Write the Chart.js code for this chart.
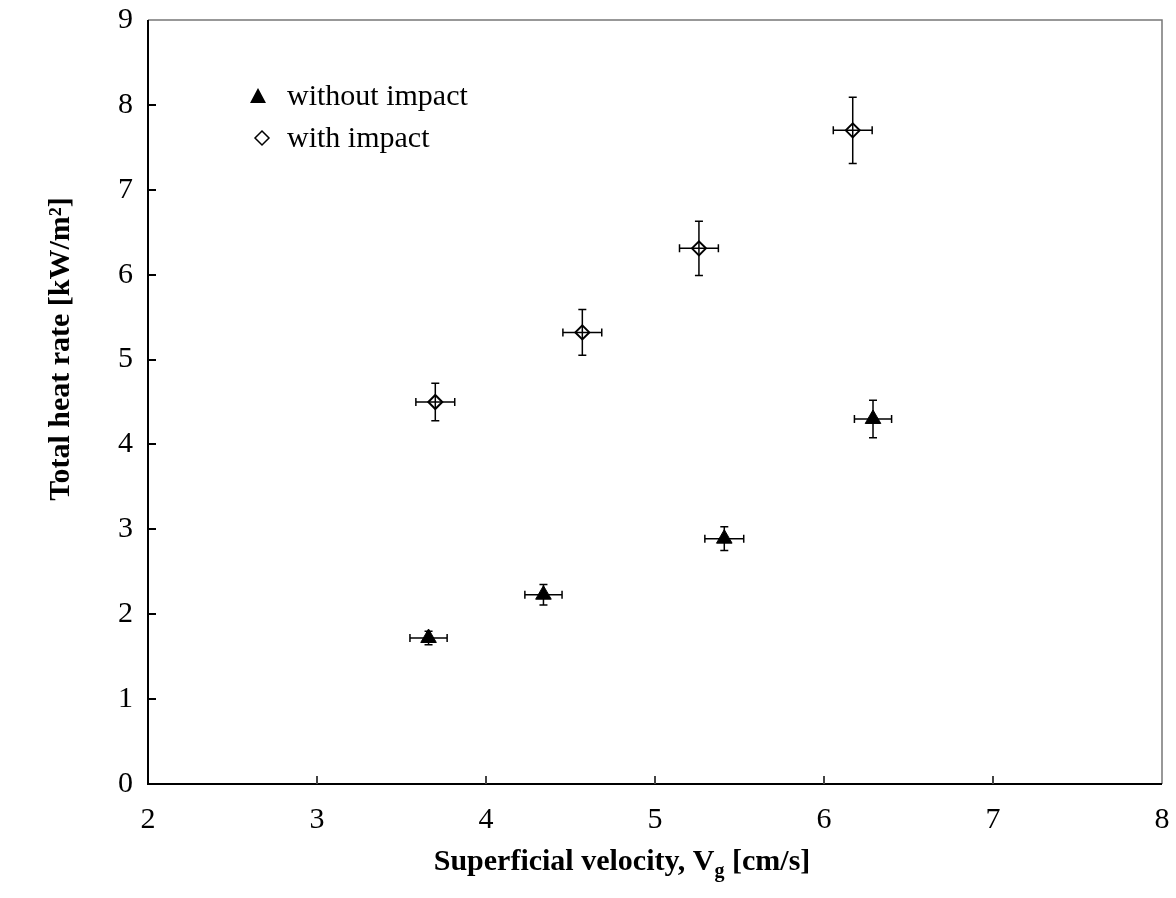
<!DOCTYPE html>
<html>
<head>
<meta charset="utf-8">
<script src="https://cdn.jsdelivr.net/npm/chart.js@4.4.0/dist/chart.umd.min.js"></script>
<style>
  html, body { margin: 0; padding: 0; background: #fff; }
  #wrap { width: 1176px; height: 898px; }
</style>
</head>
<body>
<div id="wrap"><canvas id="myChart" width="1176" height="898"></canvas></div>
<script>
// without impact (filled triangles)
const woX = [3.66, 4.34, 5.41, 6.29];
const woY = [1.72, 2.23, 2.89, 4.30];
const woXErr = [0.11, 0.11, 0.115, 0.11];
const woYErr = [0.08, 0.12, 0.14, 0.22];

// with impact (open diamonds)
const wiX = [3.70, 4.57, 5.26, 6.17];
const wiY = [4.50, 5.32, 6.31, 7.70];
const wiXErr = [0.115, 0.115, 0.115, 0.115];
const wiYErr = [0.22, 0.27, 0.32, 0.39];

const xTicks = [2, 3, 4, 5, 6, 7, 8];
const yTicks = [0, 1, 2, 3, 4, 5, 6, 7, 8, 9];

const serif = '"Liberation Serif", "Times New Roman", serif';

function toPoints(xs, ys){
    const pts = [];
    xs.forEach((x, i) => pts.push({x: x, y: ys[i]}));
    return pts;
}

const errorBars = {
    id: 'errorBars',
    beforeDatasetsDraw(chart){
        const ctx = chart.ctx;
        const xs = chart.scales.x, ys = chart.scales.y;
        const sets = [[woX, woY, woXErr, woYErr], [wiX, wiY, wiXErr, wiYErr]];
        const cap = 4;
        ctx.save();
        ctx.strokeStyle = '#000';
        ctx.lineWidth = 1.5;
        sets.forEach(s => {
            s[0].forEach((x, i) => {
                const px = xs.getPixelForValue(x);
                const py = ys.getPixelForValue(s[1][i]);
                const x1 = xs.getPixelForValue(x - s[2][i]);
                const x2 = xs.getPixelForValue(x + s[2][i]);
                const y1 = ys.getPixelForValue(s[1][i] + s[3][i]);
                const y2 = ys.getPixelForValue(s[1][i] - s[3][i]);
                ctx.beginPath();
                ctx.moveTo(x1, py); ctx.lineTo(x2, py);
                ctx.moveTo(x1, py - cap); ctx.lineTo(x1, py + cap);
                ctx.moveTo(x2, py - cap); ctx.lineTo(x2, py + cap);
                ctx.moveTo(px, y1); ctx.lineTo(px, y2);
                ctx.moveTo(px - cap, y1); ctx.lineTo(px + cap, y1);
                ctx.moveTo(px - cap, y2); ctx.lineTo(px + cap, y2);
                ctx.stroke();
            });
        });
        ctx.restore();
    }
};

const frameAndText = {
    id: 'frameAndText',
    afterDraw(chart){
        const ctx = chart.ctx;
        const a = chart.chartArea;
        const xs = chart.scales.x, ys = chart.scales.y;
        ctx.save();

        // top and right frame, grey
        ctx.strokeStyle = '#777';
        ctx.lineWidth = 1.5;
        ctx.beginPath();
        ctx.moveTo(a.left, a.top); ctx.lineTo(a.right, a.top); ctx.lineTo(a.right, a.bottom);
        ctx.stroke();

        // left and bottom frame, black
        ctx.strokeStyle = '#000';
        ctx.lineWidth = 2;
        ctx.beginPath();
        ctx.moveTo(a.left, a.top); ctx.lineTo(a.left, a.bottom); ctx.lineTo(a.right, a.bottom);
        ctx.stroke();

        // inward tick marks
        ctx.lineWidth = 2;
        ctx.strokeStyle = '#444';
        ctx.beginPath();
        xTicks.slice(1, -1).forEach(v => {
            const px = Math.round(xs.getPixelForValue(v));
            ctx.moveTo(px, a.bottom); ctx.lineTo(px, a.bottom - 8);
        });
        ctx.stroke();
        ctx.strokeStyle = '#000';
        ctx.beginPath();
        yTicks.slice(1, -1).forEach(v => {
            const py = Math.round(ys.getPixelForValue(v));
            ctx.moveTo(a.left, py); ctx.lineTo(a.left + 8, py);
        });
        ctx.stroke();

        // axis titles
        ctx.fillStyle = '#000';
        ctx.textBaseline = 'alphabetic';
        const t1 = 'Superficial velocity, V';
        const t2 = 'g';
        const t3 = ' [cm/s]';
        ctx.font = 'bold 30px ' + serif;
        const w1 = ctx.measureText(t1).width;
        const w3 = ctx.measureText(t3).width;
        ctx.font = 'bold 20px ' + serif;
        const w2 = ctx.measureText(t2).width;
        let sx = 622 - (w1 + w2 + w3) / 2;
        const by = 870;
        ctx.textAlign = 'left';
        ctx.font = 'bold 30px ' + serif;
        ctx.fillText(t1, sx, by);
        ctx.font = 'bold 20px ' + serif;
        ctx.fillText(t2, sx + w1, by + 7);
        ctx.font = 'bold 30px ' + serif;
        ctx.fillText(t3, sx + w1 + w2, by);

        ctx.save();
        ctx.translate(69, 349);
        ctx.rotate(-Math.PI / 2);
        ctx.textAlign = 'center';
        ctx.fillText('Total heat rate [kW/m²]', 0, 0);
        ctx.restore();

        // legend
        ctx.font = '30px ' + serif;
        ctx.textAlign = 'left';
        ctx.fillText('without impact', 287, 105);
        ctx.fillText('with impact', 287, 147);
        ctx.fillStyle = '#000';
        ctx.beginPath();
        ctx.moveTo(258, 88); ctx.lineTo(266, 103); ctx.lineTo(250, 103);
        ctx.closePath();
        ctx.fill();
        ctx.lineWidth = 1.5;
        ctx.beginPath();
        ctx.moveTo(262, 131); ctx.lineTo(269, 138); ctx.lineTo(262, 145); ctx.lineTo(255, 138);
        ctx.closePath();
        ctx.stroke();

        ctx.restore();
    }
};

const config = {
    type: 'scatter',
    data: {
        datasets: [
            {
                label: 'without impact',
                data: toPoints(woX, woY),
                pointStyle: 'triangle',
                pointRadius: 9,
                pointHoverRadius: 9,
                backgroundColor: '#000',
                borderColor: '#000',
                borderWidth: 1
            },
            {
                label: 'with impact',
                data: toPoints(wiX, wiY),
                pointStyle: 'rectRot',
                pointRadius: 7,
                pointHoverRadius: 7,
                backgroundColor: 'rgba(0,0,0,0)',
                borderColor: '#000',
                borderWidth: 2
            }
        ]
    },
    options: {
        responsive: false,
        animation: false,
        events: [],
        layout: { padding: { top: 20, right: 14, left: 0, bottom: 0 } },
        plugins: {
            legend: { display: false },
            tooltip: { enabled: false }
        },
        scales: {
            x: {
                type: 'linear',
                min: 2, max: 8,
                afterFit: s => { s.height = 114; s.paddingLeft = 0; s.paddingRight = 0; },
                afterBuildTicks: s => { s.ticks = xTicks.map(v => ({value: v})); },
                grid: { display: false, drawTicks: false },
                border: { display: false },
                ticks: { padding: 18, color: '#000', font: { family: serif, size: 30 } }
            },
            y: {
                type: 'linear',
                min: 0, max: 9,
                afterFit: s => { s.width = 148; s.paddingTop = 0; s.paddingBottom = 0; },
                afterBuildTicks: s => { s.ticks = yTicks.map(v => ({value: v})); },
                grid: { display: false, drawTicks: false },
                border: { display: false },
                ticks: { padding: 15, color: '#000', font: { family: serif, size: 30 } }
            }
        }
    },
    plugins: [errorBars, frameAndText]
};

new Chart(document.getElementById('myChart'), config);
</script>
</body>
</html>
